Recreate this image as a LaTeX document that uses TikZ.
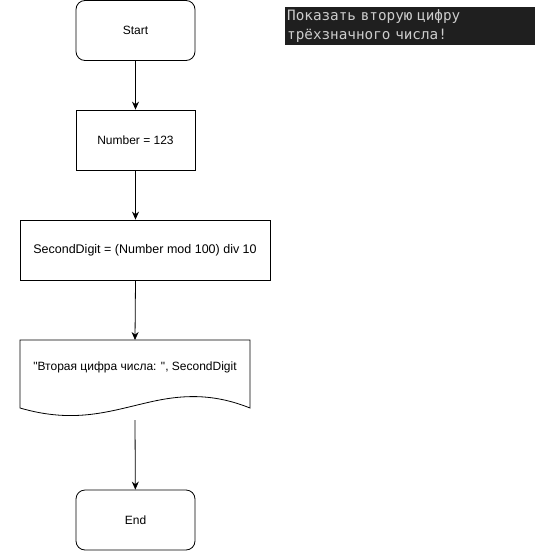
\documentclass[tikz,border=0pt]{standalone}
\usepackage{fontspec}
\setmainfont{Liberation Sans}[Ligatures=TeXOff]
\newfontfamily\monofont{DejaVu Sans Mono}
\usetikzlibrary{arrows.meta}
\definecolor{termbg}{HTML}{1F1F1F}
\definecolor{termfg}{HTML}{CCCCCC}
\begin{document}
\begin{tikzpicture}[x=1pt,y=-1pt,
  box/.style={draw,line width=0.8pt,minimum height=60pt,inner sep=0pt,font=\fontsize{12}{14}\selectfont},
  term/.style={box,rounded corners=9pt,minimum width=119pt},
  proc/.style={box,minimum width=119pt},
  flow/.style={line width=0.8pt,-{Stealth[length=8pt,width=7pt]}}]
\useasboundingbox (0,0) rectangle (536,551);
\node[term] (start) at (135.5,30.5) {Start};
\node[proc] (num) at (135.5,140) {Number = 123};
\node[proc,minimum width=250pt,font=\fontsize{12.5}{14}\selectfont] (calc) at (145,250) {SecondDigit = (Number mod 100) div 10};
\node[inner sep=0pt,font=\fontsize{12}{14}\selectfont] (out) at (135,367) {"Вторая цифра числа: ", SecondDigit};
\coordinate (docN) at (135,340);
\coordinate (docS) at (135,420);
\draw[line width=0.8pt] (20,340) -- (250,340) -- (250,408)
  .. controls (215,394) and (185,394) .. (150,402)
  .. controls (110,411) and (75,424) .. (20,408) -- cycle;
\node[term] (end) at (135.5,520) {End};
\draw[flow] (start) -- (num);
\draw[flow] (num) -- (calc.north -| num);
\draw[flow] (calc.south -| num) -- (docN);
\draw[flow] (docS) -- (end);
\node[fill=termbg,text=termfg,anchor=north west,inner xsep=2pt,inner ysep=2pt,minimum width=250pt,minimum height=38pt,align=left,text width=246pt,font=\monofont\fontsize{14.3}{19}\selectfont] (note) at (285,7) {Показать вторую цифру\\трёхзначного числа!};
\end{tikzpicture}
\end{document}
